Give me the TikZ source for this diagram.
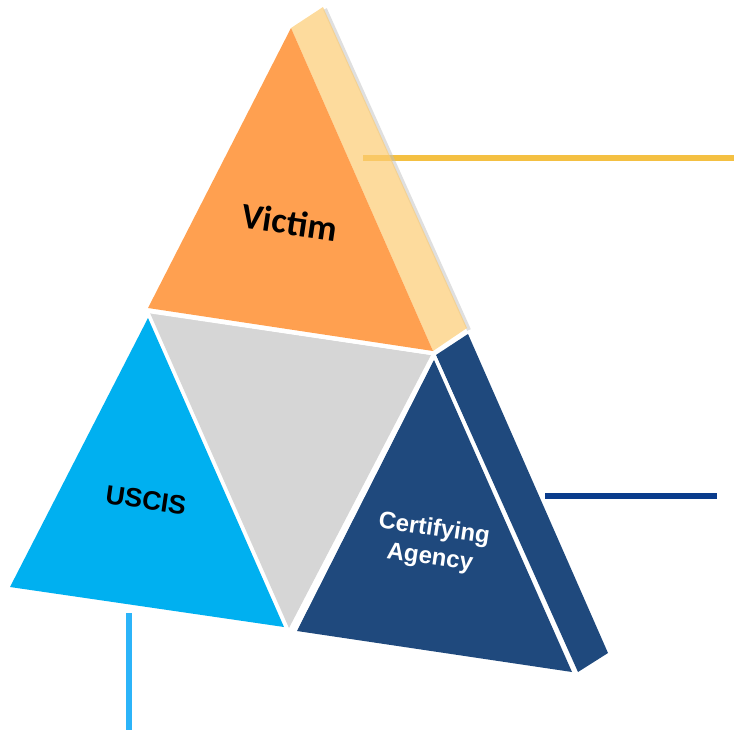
\documentclass[tikz,border=0pt]{standalone}
\usepackage{fontspec}
\setmainfont{Liberation Sans}
\newfontfamily\calib{Carlito}
\definecolor{vorange}{RGB}{255,160,80}
\definecolor{vside}{RGB}{252,204,116}
\definecolor{cgray}{RGB}{214,214,214}
\definecolor{cblue}{RGB}{0,176,240}
\definecolor{cnavy}{RGB}{31,73,125}
\definecolor{lgold}{RGB}{244,192,66}
\definecolor{lnavy}{RGB}{10,60,140}
\definecolor{lblue}{RGB}{44,180,249}
\tikzset{
  face/.style={draw=none},
  sepface/.style={draw=white,line width=4pt,line join=miter},
  conn/.style={line width=5.5pt},
  lbl/.style={font=\bfseries,rotate=-8.4,align=center,inner sep=0pt}
}
\begin{document}
\begin{tikzpicture}[x=1pt,y=-1pt]
\useasboundingbox (0,0) rectangle (734,732);
% connector end points
\coordinate (g1) at (363,158);
\coordinate (g2) at (734,158);
\coordinate (n1) at (545,496);
\coordinate (n2) at (717,496);
\coordinate (b1) at (129,613);
\coordinate (b2) at (129,730);
% gold connector (beneath the translucent side)
\draw[conn,lgold] (g1) -- (g2);
% shadow of the light side
\draw[line width=4pt,black!25,opacity=0.5] (325,9) -- (469,330);
% sides
\fill[vside,fill opacity=0.7] (291,28) -- (323,7) -- (467,328) -- (433,351) -- cycle;
\fill[cnavy] (436,355) -- (468,334) -- (608,653) -- (578,672) -- cycle;
% gray center
\fill[cgray] (150,313) -- (431,355) -- (289,628) -- cycle;
% USCIS
\filldraw[cblue,sepface,fill=cblue] (148,316) -- (286,628) -- (10,587) -- cycle;
\fill[cblue] (148,318) -- (284,627) -- (10,587) -- cycle;
% Certifying agency
\filldraw[sepface,fill=cnavy] (434,356) -- (574,673) -- (295,631) -- cycle;
\fill[cnavy] (434,360) -- (572,672) -- (297,631) -- cycle;
% Victim
\fill[vorange] (291,28) -- (433,351) -- (148,308) -- cycle;
\draw[white,line width=3.5pt] (146,311) -- (436,354);
% labels
\node[lbl,font=\calib\bfseries\fontsize{36}{42}\selectfont] (victim) at (290,222) {Victim};
\node[lbl,font=\bfseries\fontsize{26.5}{30}\selectfont] (uscis) at (146,500) {USCIS};
\node[lbl,white,font=\bfseries\fontsize{24}{29}\selectfont] (cert) at (432,544) {Certifying\\Agency};
% connectors
\draw[conn,lnavy] (n1) -- (n2);
\draw[conn,lblue] (b1) -- (b2);
\end{tikzpicture}
\end{document}
